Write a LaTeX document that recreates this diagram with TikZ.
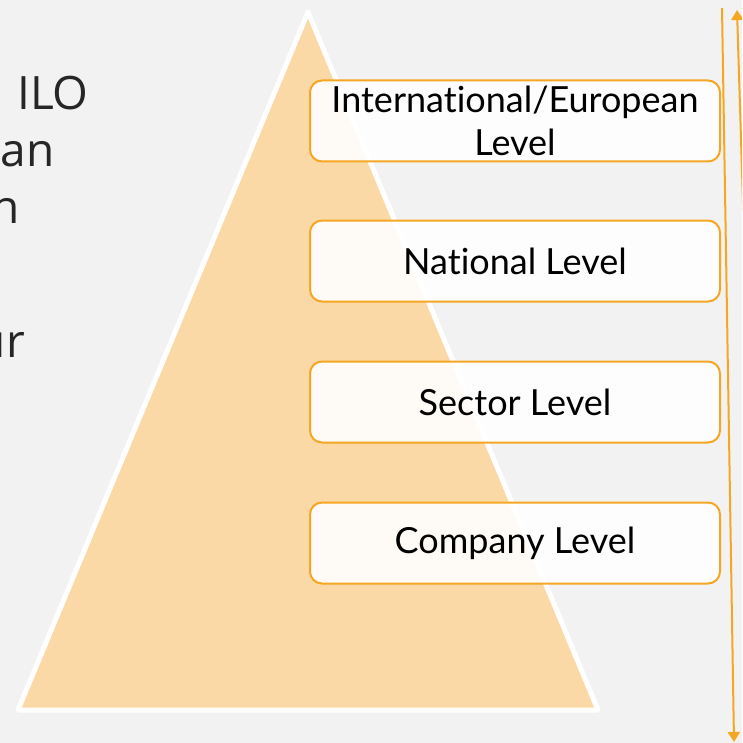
\documentclass[tikz,border=0pt]{standalone}
\usepackage{fontspec}
\setmainfont[Ligatures=NoCommon]{Lato}
\newfontfamily\sidefont{Open Sans}
\usetikzlibrary{arrows.meta}
\definecolor{bggray}{HTML}{F2F2F2}
\definecolor{pyrfill}{HTML}{FAD9A6}
\definecolor{lvorange}{HTML}{F5A623}
\definecolor{sidegray}{HTML}{262626}
\tikzset{
  levelbox/.style={draw=lvorange,line width=2pt,rounded corners=12pt,
    fill=white,fill opacity=0.9,text opacity=1,
    minimum width=410pt,minimum height=81pt,inner sep=0pt,
    align=center,font=\fontsize{36}{43}\selectfont},
  sidetext/.style={text=sidegray,inner sep=0pt,font=\sidefont\fontsize{46}{50}\selectfont},
  lvarrow/.style={lvorange,line width=2pt}
}
\begin{document}
\begin{tikzpicture}[x=1pt,y=-1pt]
  \useasboundingbox (0,0) rectangle (742,743);
  \fill[bggray] (0,0) rectangle (742,743);
  \clip (0,0) rectangle (742,743);
  % text cut off on the left
  \node[sidetext,anchor=base west] (ilo) at (17,110) {ILO};
  \node[sidetext,anchor=base east] (an)  at (55,167) {an};
  \node[sidetext,anchor=base east] (n)   at (20,223) {n};
  \node[sidetext,anchor=base east] (ur)  at (25,357) {ur};
  % pyramid
  \draw[white,line width=5pt,line join=round,fill=pyrfill]
    (308,12) -- (598,710) -- (18,710) -- cycle;
  % levels
  \node[levelbox] (intl) at (515,121) {International/European\\Level};
  \node[levelbox] (natl) at (515,261) {National Level};
  \node[levelbox] (sect) at (515,402) {Sector Level};
  \node[levelbox] (comp) at (515,543) {Company Level};
  % arrows on the right
  \coordinate (topA) at (722,8);
  \coordinate (botA) at (734,742);
  \coordinate (topB) at (737,10);
  \coordinate (botB) at (746,300);
  \draw[lvarrow,-{Triangle[length=10pt,width=12pt]}] (topA) -- (botA);
  \draw[lvarrow,{Triangle[length=10pt,width=12pt]}-] (topB) -- (botB);
\end{tikzpicture}
\end{document}
